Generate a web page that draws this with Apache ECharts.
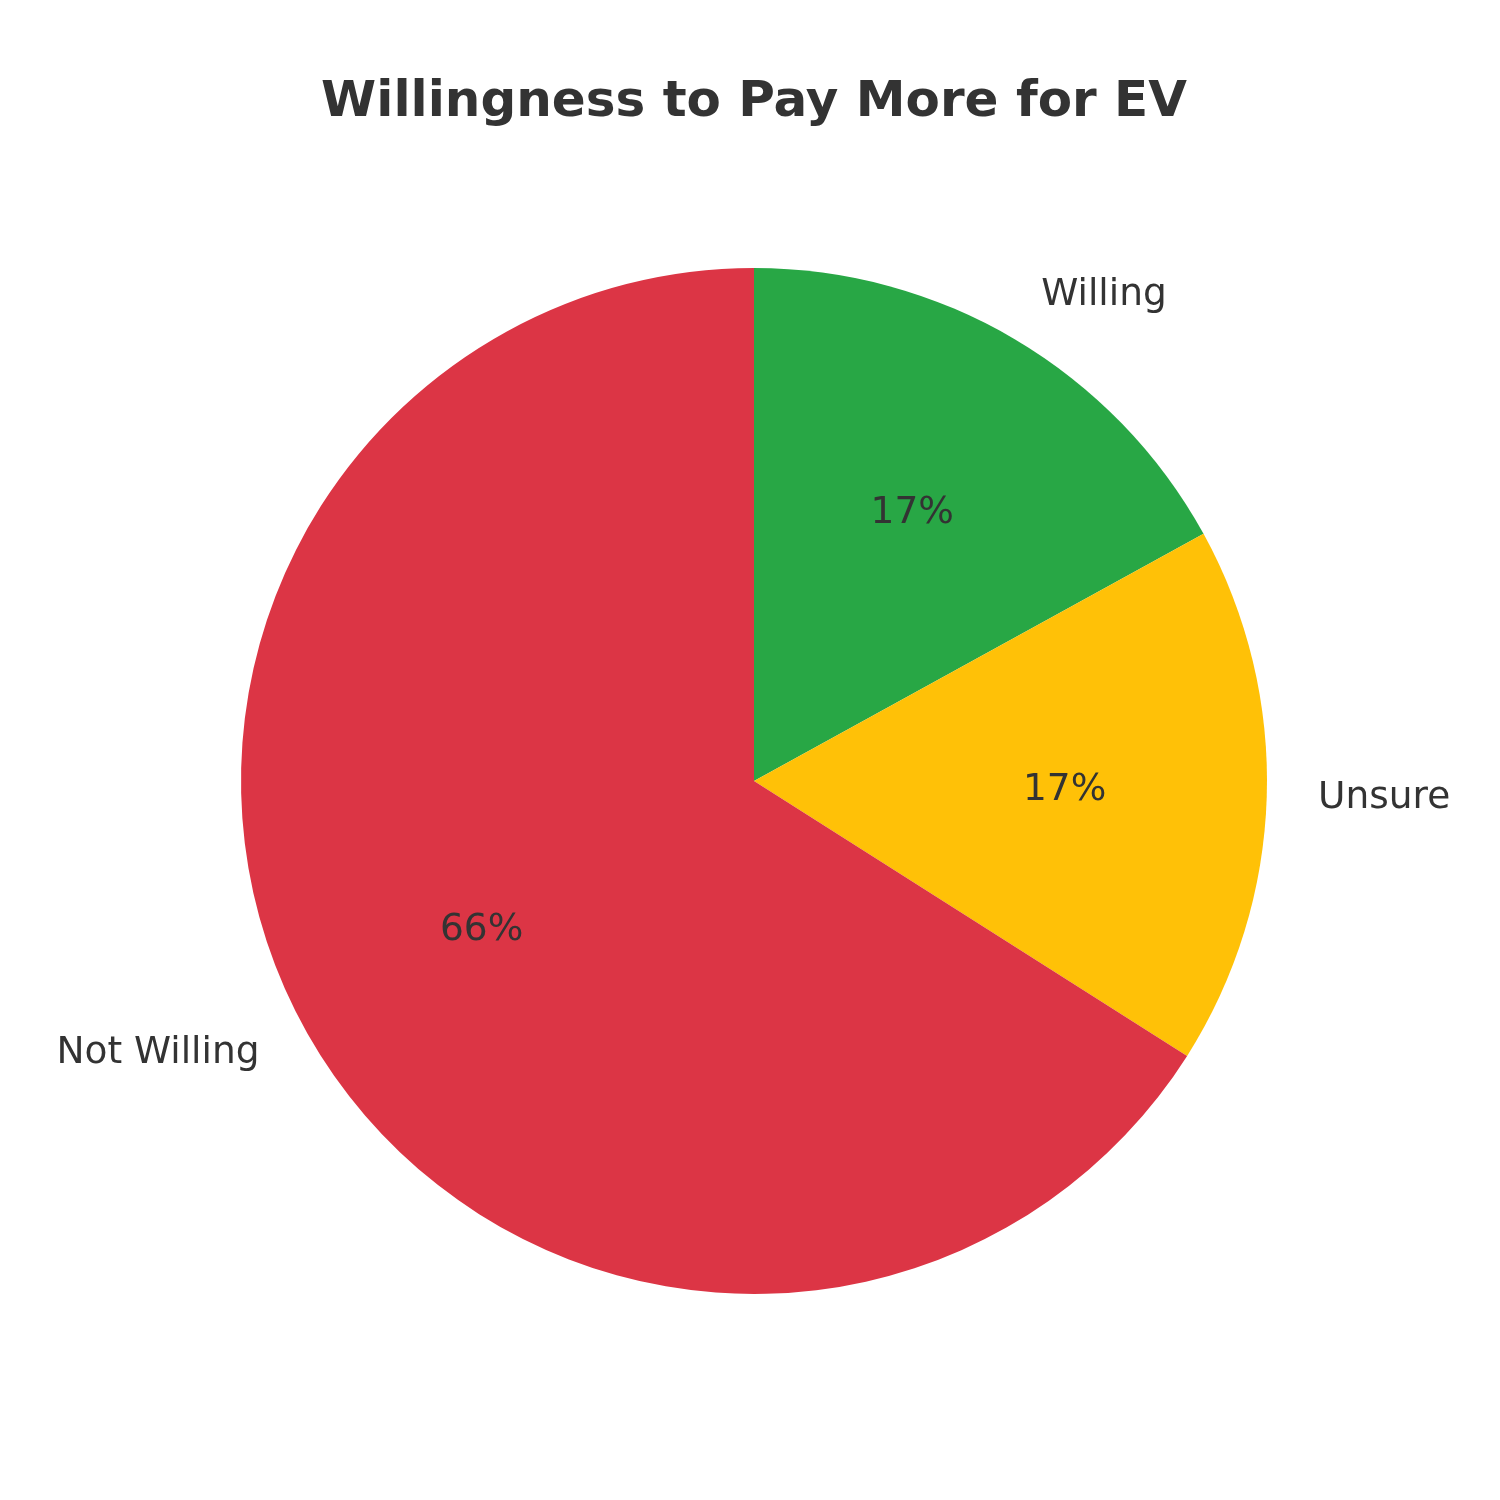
<!DOCTYPE html>
<html><head><meta charset="utf-8">
<script src="https://cdn.jsdelivr.net/npm/echarts@6/dist/echarts.min.js"></script>
<style>html,body{margin:0;padding:0;background:#fff}#c{width:1500px;height:1500px}</style>
</head><body><div id="c"></div>
<script>
const categories = ['Willing', 'Unsure', 'Not Willing'];
const values = [17, 17, 66];
const colors = ['#28a745', '#ffc107', '#dc3545'];

const R = 513;
const center = [754, 781];
const font = 'DejaVu Sans';
const data = categories.map((c, i) => ({ name: c, value: values[i], itemStyle: { color: colors[i] } }));

const chart = echarts.init(document.getElementById('c'), null, { renderer: 'canvas' });
chart.setOption({
  backgroundColor: '#ffffff',
  animation: false,
  title: {
    text: 'Willingness to Pay More for EV',
    left: 749, top: 73, textAlign: 'center',
    textStyle: { fontFamily: font, fontWeight: 'bold', fontSize: 50, color: '#333333' }
  },
  series: [
    {
      type: 'pie', radius: R, center: center, startAngle: 90, clockwise: true,
      avoidLabelOverlap: false, silent: true,
      data: data,
      label: { show: true, position: 'outside', distanceToLabelLine: 0, formatter: '{b}',
        fontFamily: font, fontSize: 37.5, color: '#333333' },
      labelLine: { show: false, length: 0.1 * R, length2: 0 }
    },
    {
      type: 'pie', radius: [0.2 * R, R], center: center, startAngle: 90, clockwise: true,
      avoidLabelOverlap: false, silent: true,
      data: categories.map((c, i) => ({ name: c, value: values[i], itemStyle: { color: 'rgba(0,0,0,0)' } })),
      label: { show: true, position: 'inside', formatter: p => Math.round(p.percent) + '%',
        fontFamily: font, fontSize: 37.5, color: '#333333' },
      labelLine: { show: false }
    }
  ]
});
</script></body></html>
